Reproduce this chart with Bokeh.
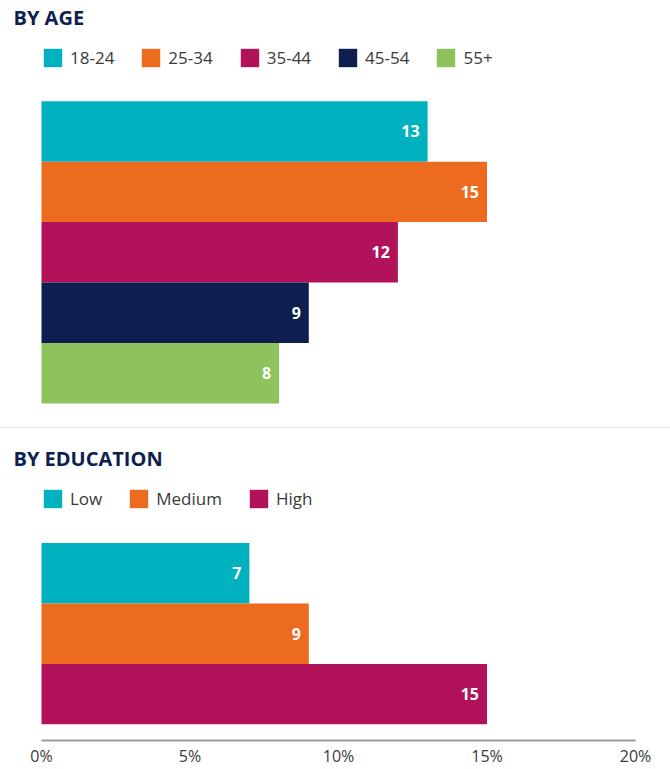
from bokeh.plotting import figure
from bokeh.models import (Range1d, FixedTicker, PrintfTickFormatter, Legend,
                          LegendItem, Span, ColumnDataSource)
from bokeh.embed import file_html
from bokeh.resources import INLINE
from bokeh.core.properties import value

# ---- data ----
age_groups = ["18-24", "25-34", "35-44", "45-54", "55+"]
age_values = [13, 15, 12, 9, 8]
edu_levels = ["Low", "Medium", "High"]
edu_values = [7, 9, 15]
x_ticks = [0, 5, 10, 15, 20]
section_titles = ["BY AGE", "BY EDUCATION"]

# ---- styles ----
age_colors = ["#00B2BF", "#EC6B1E", "#B1125A", "#0E1F4F", "#8DC25C"]
edu_colors = ["#00B2BF", "#EC6B1E", "#B1125A"]
FONT = "Open Sans"
TITLE_COLOR = "#0E1F4F"
TEXT_COLOR = "#3a3a3a"

# ---- layout (pixels, relative to figure top-left) ----
W, H = 670, 769
FRAME_H = 742
ZERO_PX = 41.0
PX_PER_PCT = 29.7
BAR_H = 60.6
AGE_TOP = 101.0
EDU_TOP = 544.0
SEP_Y = 428
TITLE_BASE = [17, 459]
LEG_BOTTOM = [71, 512]


def px_to_x(px):
    return (px - ZERO_PX) / PX_PER_PCT


p = figure(width=W, height=H, output_backend="svg", toolbar_location=None,
           x_range=Range1d(px_to_x(0), px_to_x(W)),
           y_range=Range1d(FRAME_H, 0),
           y_axis_location=None,
           min_border_left=0, min_border_right=0, min_border_top=0,
           min_border_bottom=H - FRAME_H)
p.grid.visible = False
p.outline_line_color = None
p.background_fill_color = "white"
p.border_fill_color = "white"

age_src = ColumnDataSource(dict(
    cat=age_groups, val=age_values, color=age_colors,
    y=[AGE_TOP + (i + 0.5) * BAR_H for i in range(len(age_groups))],
    lab=[str(v) for v in age_values]))
edu_src = ColumnDataSource(dict(
    cat=edu_levels, val=edu_values, color=edu_colors,
    y=[EDU_TOP + (i + 0.5) * BAR_H for i in range(len(edu_levels))],
    lab=[str(v) for v in edu_values]))

r_age = p.hbar(y="y", right="val", left=0, height=BAR_H, color="color",
               line_color=None, source=age_src)
r_edu = p.hbar(y="y", right="val", left=0, height=BAR_H, color="color",
               line_color=None, source=edu_src)

for src in (age_src, edu_src):
    p.text(x="val", y="y", text="lab", source=src, x_offset=-8,
           text_align="right", text_baseline="middle", text_color="white",
           text_font=value(FONT), text_font_style="bold",
           text_font_size="16px")

# titles
title_src = ColumnDataSource(dict(x=[px_to_x(13)] * 2, y=TITLE_BASE,
                                  t=section_titles))
p.text(x="x", y="y", text="t", source=title_src, text_font=value(FONT),
       text_font_style="bold", text_font_size="20px", text_color=TITLE_COLOR,
       text_baseline="alphabetic", text_align="left")

# separator
p.add_layout(Span(location=SEP_Y, dimension="width", line_color="#c8c8c8",
                  line_width=1, line_dash="1 1"))


def make_legend(renderer, labels, bottom_px):
    leg = Legend(items=[LegendItem(label=l, renderers=[renderer], index=i)
                        for i, l in enumerate(labels)],
                 orientation="horizontal",
                 location=(ZERO_PX, FRAME_H - bottom_px),
                 glyph_width=23, glyph_height=23, label_height=23,
                 label_standoff=6, spacing=25, padding=0, margin=0,
                 border_line_color=None, background_fill_alpha=0,
                 label_text_font=FONT, label_text_font_size="17px",
                 label_text_color=TEXT_COLOR)
    p.add_layout(leg, "center")


make_legend(r_age, age_groups, LEG_BOTTOM[0])
make_legend(r_edu, edu_levels, LEG_BOTTOM[1])

ax = p.xaxis[0]
ax.bounds = (x_ticks[0], x_ticks[-1])
ax.ticker = FixedTicker(ticks=x_ticks)
ax.formatter = PrintfTickFormatter(format="%d%%")
ax.axis_line_color = "#9a9a9a"
ax.axis_line_width = 2
ax.major_tick_line_color = None
ax.minor_tick_line_color = None
ax.major_tick_out = 0
ax.major_tick_in = 0
ax.minor_tick_out = 0
ax.minor_tick_in = 0
ax.major_label_standoff = 4
ax.major_label_text_font = FONT
ax.major_label_text_font_size = "16px"
ax.major_label_text_color = TEXT_COLOR

open("out.html", "w").write(file_html(p, INLINE))
